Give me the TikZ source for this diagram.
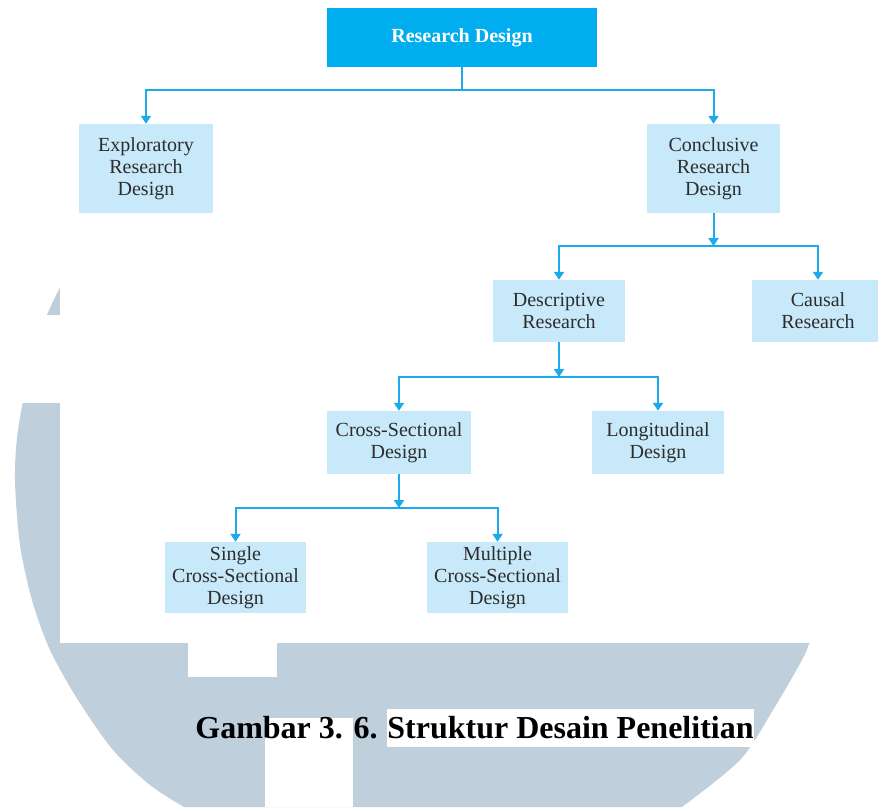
\documentclass[tikz,border=0pt]{standalone}
\usepackage{fontspec}
\setmainfont{Liberation Serif}
\usepackage{tikz}
\usetikzlibrary{arrows.meta, positioning}

\definecolor{topblue}{RGB}{0,174,239}
\definecolor{boxblue}{RGB}{199,233,249}
\definecolor{lineblue}{RGB}{28,170,236}
\definecolor{wmgray}{RGB}{191,207,220}
\definecolor{txtgray}{RGB}{45,45,45}

\begin{document}
\begin{tikzpicture}[x=1pt, y=-1pt,
    box/.style={fill=boxblue, text=txtgray, align=center, inner sep=0pt,
        font=\fontsize{20}{22}\selectfont},
    link/.style={draw=lineblue, line width=2pt},
    arr/.style={link, -{Triangle[width=10pt,length=8pt]}},
    captxt/.style={inner sep=0pt, text height=29pt, text depth=9pt,
        font=\fontsize{32}{36}\selectfont\bfseries}]
                    \clip (0,0) rectangle (878,807);
                    % watermark behind the figure
                    \fill[wmgray] plot[smooth] coordinates {(64,280) (47,315) (30,370) (18,430) (15,480)
                        (20,545) (32,600) (50,650) (78,700) (113,750) (150,785) (184,807)}
                        -- plot[smooth] coordinates {(682,807) (740,760) (773,710) (802,660) (809,644) (822,610)}
                        -- (860,560) -- cycle;
                    \fill[white] (60,0) rectangle (878,643);
                    \fill[white] (0,315) rectangle (60,403);
                    \fill[white] (188,643) rectangle (277,677);
                    \fill[white] (265,718) rectangle (353,807);

                    \node[fill=topblue, text=white, inner sep=0pt, minimum width=270pt, minimum height=59pt,
                        font=\fontsize{20}{22}\selectfont\bfseries] (rd) at (462,37.5) {Research Design};
                    \node[box, minimum width=134pt, minimum height=89pt] (exp) at (146,168.5) {Exploratory\\Research\\Design};
                    \node[box, minimum width=133pt, minimum height=89pt] (con) at (713.5,168.5) {Conclusive\\Research\\Design};
                    \node[box, minimum width=132pt, minimum height=62pt] (desc) at (559,311) {Descriptive\\Research};
                    \node[box, minimum width=132pt, minimum height=62pt] (causal) at (818,311) {Causal\\Research};
                    \node[box, minimum width=144pt, minimum height=63pt] (cross) at (399,442.5) {Cross-Sectional\\Design};
                    \node[box, minimum width=132pt, minimum height=63pt] (longi) at (658,442.5) {Longitudinal\\Design};
                    \node[box, minimum width=141pt, minimum height=71pt] (single) at (235.5,577.5) {Single\\Cross-Sectional\\Design};
                    \node[box, minimum width=141pt, minimum height=71pt] (multi) at (497.5,577.5) {Multiple\\Cross-Sectional\\Design};

                    \coordinate (j1) at (462,90);
                    \coordinate (j2) at (713.5,246);
                    \coordinate (j3) at (559,377);
                    \coordinate (j4) at (399,508);

                    \draw[link] (rd) -- (j1);
                    \draw[arr] (j1) -| (exp);
                    \draw[arr] (j1) -| (con);
                    \draw[arr] (con) -- (j2);
                    \draw[arr] (j2) -| (desc);
                    \draw[arr] (j2) -| (causal);
                    \draw[arr] (desc) -- (j3);
                    \draw[arr] (j3) -| (cross);
                    \draw[arr] (j3) -| (longi);
                    \draw[arr] (cross) -- (j4);
                    \draw[arr] (j4) -| (single);
                    \draw[arr] (j4) -| (multi);

                    \node[captxt, fill=white, minimum width=367pt] (capb) at (570.5,728) {Struktur Desain Penelitian};
                    \node[captxt, left=9pt of capb] (capa) {Gambar 3. 6.};
                \end{tikzpicture}
\end{document}
